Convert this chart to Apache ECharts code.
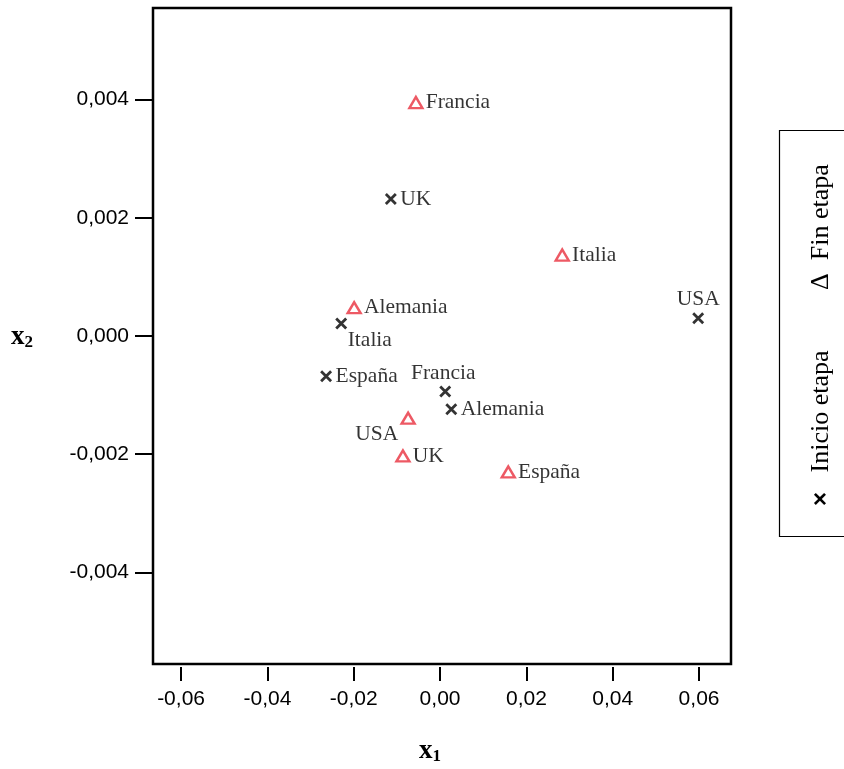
<!DOCTYPE html>
<html>
<head>
<meta charset="utf-8">
<script src="https://cdn.jsdelivr.net/npm/echarts@6/dist/echarts.min.js"></script>
<style>
  html, body { margin: 0; padding: 0; background: #fff; }
  #chart { width: 844px; height: 769px; }
</style>
</head>
<body>
<div id="chart"></div>
<script>
// Positions of each country at the start of the period (crosses)
const inicioNames = ['UK', 'Italia', 'España', 'Francia', 'Alemania', 'USA'];
const inicioX = [-0.0114, -0.0229, -0.0264, 0.0012, 0.0026, 0.0598];
const inicioY = [0.00232, 0.00021, -0.00068, -0.00094, -0.00124, 0.00030];

// Positions of each country at the end of the period (triangles)
const finNames = ['Francia', 'Italia', 'Alemania', 'USA', 'UK', 'España'];
const finX = [-0.0056, 0.0283, -0.0199, -0.0074, -0.0086, 0.0158];
const finY = [0.00395, 0.00137, 0.00048, -0.00139, -0.00203, -0.00230];

// Tick values on both axes
const xTicks = [-0.06, -0.04, -0.02, 0.00, 0.02, 0.04, 0.06];
const yTicks = [-0.004, -0.002, 0.000, 0.002, 0.004];

const serif = '"Liberation Serif", "Times New Roman", serif';
const sans = '"Liberation Sans", Arial, sans-serif';
const red = '#e9303d';

// Label placement for points whose label is not simply to the right
const labelPlacement = {
  'inicio:Italia': { position: 'right', offset: [-3, 17] },
  'inicio:Francia': { position: 'top', offset: [-2, 2] },
  'inicio:USA': { position: 'top', offset: [0, 2] },
  'fin:USA': { position: 'left', offset: [0, 16] }
};

function buildPoints(kind, names, xs, ys) {
  return names.map((n, i) => {
    const p = { name: n, value: [xs[i], ys[i]] };
    const pl = labelPlacement[kind + ':' + n];
    if (pl) p.label = { position: pl.position, offset: pl.offset };
    return p;
  });
}

const fmt = (d) => (v) => {
  const s = Math.abs(v).toFixed(d).replace('.', ',');
  return (v < -1e-12 ? '-' : '') + s;
};

const labelStyle = {
  show: true,
  position: 'right',
  distance: 2,
  formatter: '{b}',
  color: '#000',
  fontFamily: serif,
  fontSize: 21.5
};

const chart = echarts.init(document.getElementById('chart'), null, { renderer: 'canvas' });

chart.setOption({
  animation: false,
  backgroundColor: '#fff',
  grid: {
    left: 153, right: 113, top: 8, bottom: 105,
    show: true,
    borderColor: '#000',
    borderWidth: 2.5,
    backgroundColor: 'transparent'
  },
  xAxis: {
    type: 'value',
    min: -0.0665,
    max: 0.0674,
    offset: 3,
    axisLine: { show: false, onZero: false },
    splitLine: { show: false },
    axisTick: {
      show: true, customValues: xTicks, length: 14,
      lineStyle: { color: '#000', width: 2 }
    },
    axisLabel: {
      customValues: xTicks, formatter: fmt(2),
      color: '#000', fontFamily: sans, fontSize: 21, margin: 22
    }
  },
  yAxis: {
    type: 'value',
    min: -0.00555,
    max: 0.00555,
    axisLine: { show: false, onZero: false },
    splitLine: { show: false },
    axisTick: {
      show: true, customValues: yTicks, length: 18,
      lineStyle: { color: '#000', width: 2 }
    },
    axisLabel: {
      customValues: yTicks, formatter: fmt(3),
      color: '#000', fontFamily: sans, fontSize: 21, margin: 24
    }
  },
  series: [
    {
      name: 'Inicio etapa',
      type: 'scatter',
      symbol: 'path://M0,0L10,10M10,0L0,10',
      symbolSize: 10,
      itemStyle: { color: 'none', borderColor: '#000', borderWidth: 2.8 },
      label: labelStyle,
      data: buildPoints('inicio', inicioNames, inicioX, inicioY)
    },
    {
      name: 'Fin etapa',
      type: 'scatter',
      symbol: 'triangle',
      symbolSize: [13, 11],
      itemStyle: { color: '#fff', borderColor: red, borderWidth: 2.4 },
      label: labelStyle,
      data: buildPoints('fin', finNames, finX, finY)
    }
  ],
  graphic: [
    // axis titles
    {
      type: 'text', left: 419, top: 738,
      style: {
        text: '{v|x}{s|1}',
        rich: {
          v: { fontFamily: serif, fontWeight: 'bold', fontSize: 27, fill: '#000' },
          s: { fontFamily: serif, fontWeight: 'bold', fontSize: 17, fill: '#000', padding: [10, 0, 0, 0] }
        }
      }
    },
    {
      type: 'text', left: 11, top: 324,
      style: {
        text: '{v|x}{s|2}',
        rich: {
          v: { fontFamily: serif, fontWeight: 'bold', fontSize: 27, fill: '#000' },
          s: { fontFamily: serif, fontWeight: 'bold', fontSize: 17, fill: '#000', padding: [10, 0, 0, 0] }
        }
      }
    },
    // legend box with vertical entries
    {
      type: 'rect',
      shape: { x: 779.5, y: 130.5, width: 80, height: 406 },
      style: { fill: 'transparent', stroke: '#000', lineWidth: 1.2 }
    },
    {
      type: 'text', x: 821, y: 506, rotation: Math.PI / 2,
      style: {
        text: '{m|×}   Inicio etapa',
        align: 'left', verticalAlign: 'middle',
        fontFamily: serif, fontSize: 26, fill: '#000',
        rich: { m: { fontFamily: sans, fontWeight: 'bold', fontSize: 24, fill: '#000' } }
      }
    },
    {
      type: 'text', x: 821, y: 290, rotation: Math.PI / 2,
      style: {
        text: 'Δ  Fin etapa',
        align: 'left', verticalAlign: 'middle',
        fontFamily: serif, fontSize: 26, fill: '#000'
      }
    }
  ]
});
</script>
</body>
</html>
